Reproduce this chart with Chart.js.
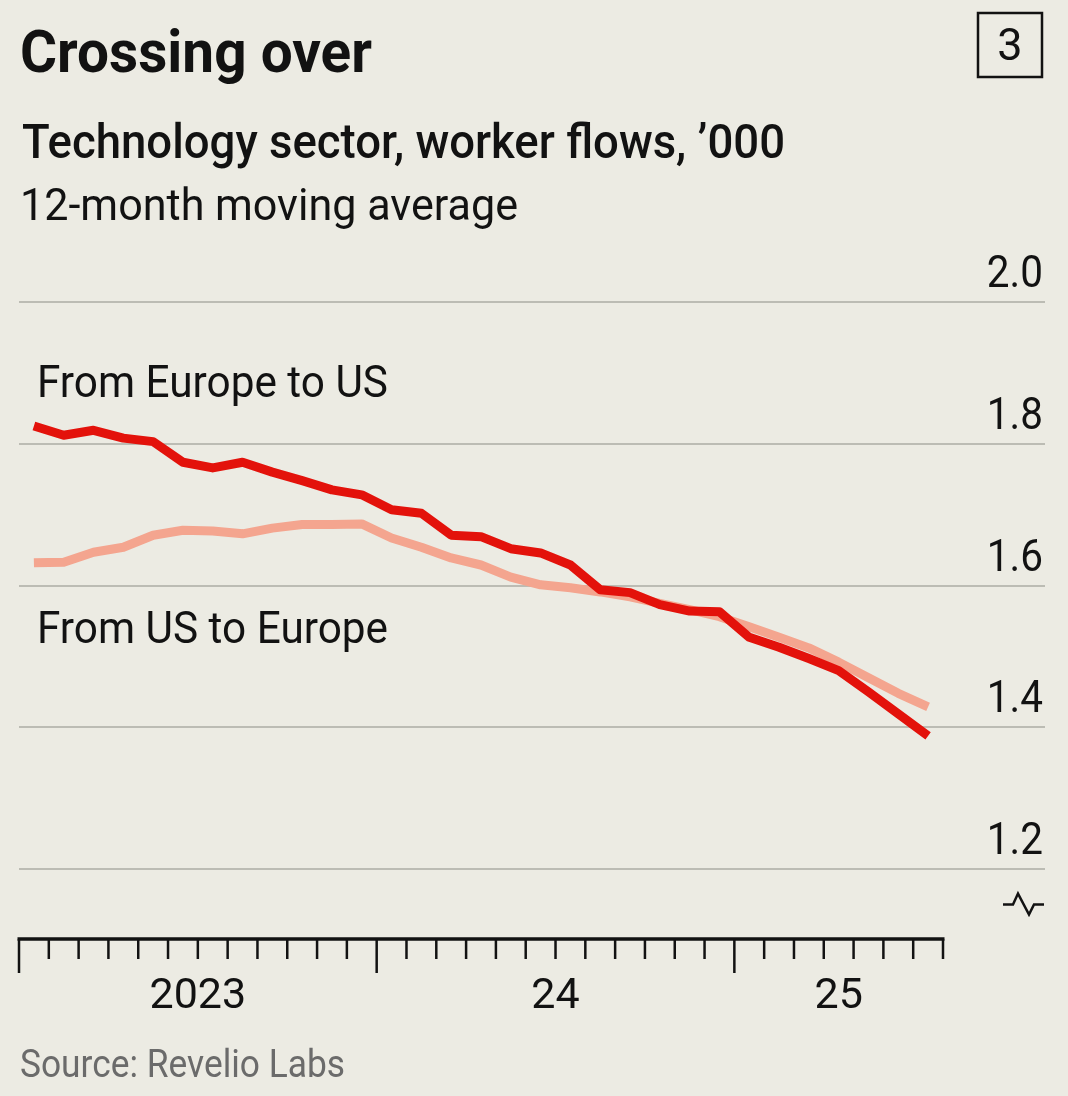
<!DOCTYPE html>
<html lang="en">
<head>
    <meta charset="UTF-8">
    <title>Crossing over</title>
    <script src="https://cdn.jsdelivr.net/npm/chart.js@4/dist/chart.umd.min.js"></script>
    <style>
        html, body { margin: 0; padding: 0; background: #ecebe3; }
        #wrap { position: relative; width: 1068px; height: 1096px; }
    </style>
</head>
<body>
    <div id="wrap">
        <canvas id="myChart" width="1068" height="1096"></canvas>
    </div>

    <script>
        // Datos: meses (promedio movil 12 meses), miles de trabajadores
        const months = [
            'Jan 2023', 'Feb 2023', 'Mar 2023', 'Apr 2023', 'May 2023', 'Jun 2023',
            'Jul 2023', 'Aug 2023', 'Sep 2023', 'Oct 2023', 'Nov 2023', 'Dec 2023',
            'Jan 2024', 'Feb 2024', 'Mar 2024', 'Apr 2024', 'May 2024', 'Jun 2024',
            'Jul 2024', 'Aug 2024', 'Sep 2024', 'Oct 2024', 'Nov 2024', 'Dec 2024',
            'Jan 2025', 'Feb 2025', 'Mar 2025', 'Apr 2025', 'May 2025', 'Jun 2025',
            'Jul 2025'
        ];
        const europeToUS = [
            1.825, 1.812, 1.819, 1.808, 1.803, 1.774, 1.766, 1.774, 1.760, 1.748, 1.735, 1.728,
            1.707, 1.702, 1.671, 1.669, 1.652, 1.646, 1.629, 1.594, 1.590, 1.573, 1.564, 1.563,
            1.527, 1.513, 1.497, 1.480, 1.450, 1.419, 1.388
        ];
        const usToEurope = [
            1.632, 1.633, 1.647, 1.654, 1.671, 1.678, 1.677, 1.673, 1.681, 1.686, 1.686, 1.687,
            1.667, 1.654, 1.639, 1.629, 1.612, 1.601, 1.597, 1.591, 1.584, 1.575, 1.566, 1.556,
            1.542, 1.527, 1.512, 1.492, 1.470, 1.448, 1.429
        ];
        const yTicks = [1.2, 1.4, 1.6, 1.8, 2.0];
        const yearLabels = ['2023', '24', '25'];

        const INK = '#121212';
        const BG = '#ecebe3';

        // texto con escala horizontal opcional (w = ancho deseado, k = factor)
        function txt(ctx, s, x, y, font, color, align, opt) {
            opt = opt || {};
            ctx.save();
            ctx.font = font;
            ctx.fillStyle = color;
            ctx.textAlign = 'left';
            ctx.textBaseline = 'alphabetic';
            const m = ctx.measureText(s).width;
            const k = opt.w ? opt.w / m : (opt.k || 1);
            let x0 = x;
            if (align === 'right') x0 = x - m * k;
            if (align === 'center') x0 = x - m * k / 2;
            ctx.translate(x0, y);
            ctx.scale(k, 1);
            ctx.fillText(s, 0, 0);
            ctx.restore();
        }

        const background = {
            id: 'background',
            beforeDraw(chart) {
                const ctx = chart.ctx;
                ctx.save();
                ctx.fillStyle = BG;
                ctx.fillRect(0, 0, chart.width, chart.height);
                ctx.restore();
            }
        };

        const decor = {
            id: 'decor',
            afterDraw(chart) {
                const { ctx, chartArea } = chart;
                const xs = chart.scales.x;
                const ys = chart.scales.y;

                // encabezado
                txt(ctx, 'Crossing over', 20, 72, 'bold 59px Roboto', INK, 'left', { w: 352 });
                txt(ctx, 'Technology sector, worker flows, \u2019000', 22, 158, '500 48px Roboto', INK, 'left', { w: 763 });
                txt(ctx, '12-month moving average', 20, 220, '44px Roboto', INK, 'left', { w: 498 });

                ctx.save();
                ctx.strokeStyle = INK;
                ctx.lineWidth = 2.5;
                ctx.strokeRect(978, 13, 64, 64);
                ctx.restore();
                txt(ctx, '3', 1010, 60, '45px Roboto', INK, 'center');

                // etiquetas del eje y, encima de cada linea
                ys.ticks.forEach(t => {
                    const py = ys.getPixelForValue(t.value);
                    txt(ctx, t.value.toFixed(1), 1043, py - 15, '44px Roboto', INK, 'right', { k: 0.92 });
                });

                // simbolo de corte del eje
                const yb = ys.getPixelForValue(1.15);
                ctx.save();
                ctx.strokeStyle = INK;
                ctx.lineWidth = 2.5;
                ctx.lineJoin = 'miter';
                ctx.beginPath();
                ctx.moveTo(1003, yb);
                ctx.lineTo(1013, yb);
                ctx.lineTo(1018, yb - 11);
                ctx.lineTo(1029, yb + 10);
                ctx.lineTo(1034, yb);
                ctx.lineTo(1044, yb);
                ctx.stroke();
                ctx.restore();

                // eje x: linea base y marcas mensuales
                const bound = k => xs.getPixelForValue(k - 0.5);
                const n = months.length;
                const y0 = chartArea.bottom - 1;
                ctx.save();
                ctx.strokeStyle = INK;
                ctx.lineWidth = 3.5;
                ctx.beginPath();
                ctx.moveTo(bound(0) - 1.5, y0);
                ctx.lineTo(bound(n) + 1.5, y0);
                ctx.stroke();
                ctx.lineWidth = 2.5;
                for (let k = 0; k <= n; k++) {
                    const px = bound(k);
                    ctx.beginPath();
                    ctx.moveTo(px, y0);
                    ctx.lineTo(px, y0 + (k % 12 === 0 ? 34 : 20));
                    ctx.stroke();
                }
                ctx.restore();

                yearLabels.forEach((lab, j) => {
                    const s = j * 12;
                    const e = Math.min(s + 12, n);
                    txt(ctx, lab, (bound(s) + bound(e)) / 2, 1008, '43px Roboto', INK, 'center');
                });

                // rotulos de las series
                txt(ctx, 'From Europe to US', 37, 397, '44px Roboto', INK, 'left', { w: 351 });
                txt(ctx, 'From US to Europe', 37, 643, '44px Roboto', INK, 'left', { w: 351 });

                // fuente
                txt(ctx, 'Source: Revelio Labs', 20, 1077, '38px Roboto', '#6b6b6b', 'left', { w: 325 });
            }
        };

        const config = {
            type: 'line',
            data: {
                labels: months,
                datasets: [
                    {
                        label: 'From Europe to US',
                        data: europeToUS,
                        borderColor: '#e3120b',
                        borderWidth: 9,
                        pointRadius: 0,
                        borderJoinStyle: 'round',
                        tension: 0
                    },
                    {
                        label: 'From US to Europe',
                        data: usToEurope,
                        borderColor: '#f4a58f',
                        borderWidth: 9,
                        pointRadius: 0,
                        borderJoinStyle: 'round',
                        tension: 0
                    }
                ]
            },
            options: {
                responsive: false,
                animation: false,
                layout: { padding: { left: 19, right: 23, top: 302, bottom: 156 } },
                plugins: {
                    legend: { display: false },
                    tooltip: { enabled: false },
                    title: { display: false }
                },
                scales: {
                    x: {
                        type: 'category',
                        offset: true,
                        display: false
                    },
                    y: {
                        position: 'right',
                        min: 1.1,
                        max: 2.0,
                        afterBuildTicks: s => { s.ticks = yTicks.map(v => ({ value: v })); },
                        afterFit: s => { s.width = 102; },
                        border: { display: false },
                        grid: {
                            color: '#bcbcb4',
                            lineWidth: 2,
                            drawTicks: true,
                            tickLength: 102,
                            tickColor: '#bcbcb4'
                        },
                        ticks: { display: false }
                    }
                }
            },
            plugins: [background, decor]
        };

        var myChart = new Chart(document.getElementById('myChart'), config);
    </script>
</body>
</html>
